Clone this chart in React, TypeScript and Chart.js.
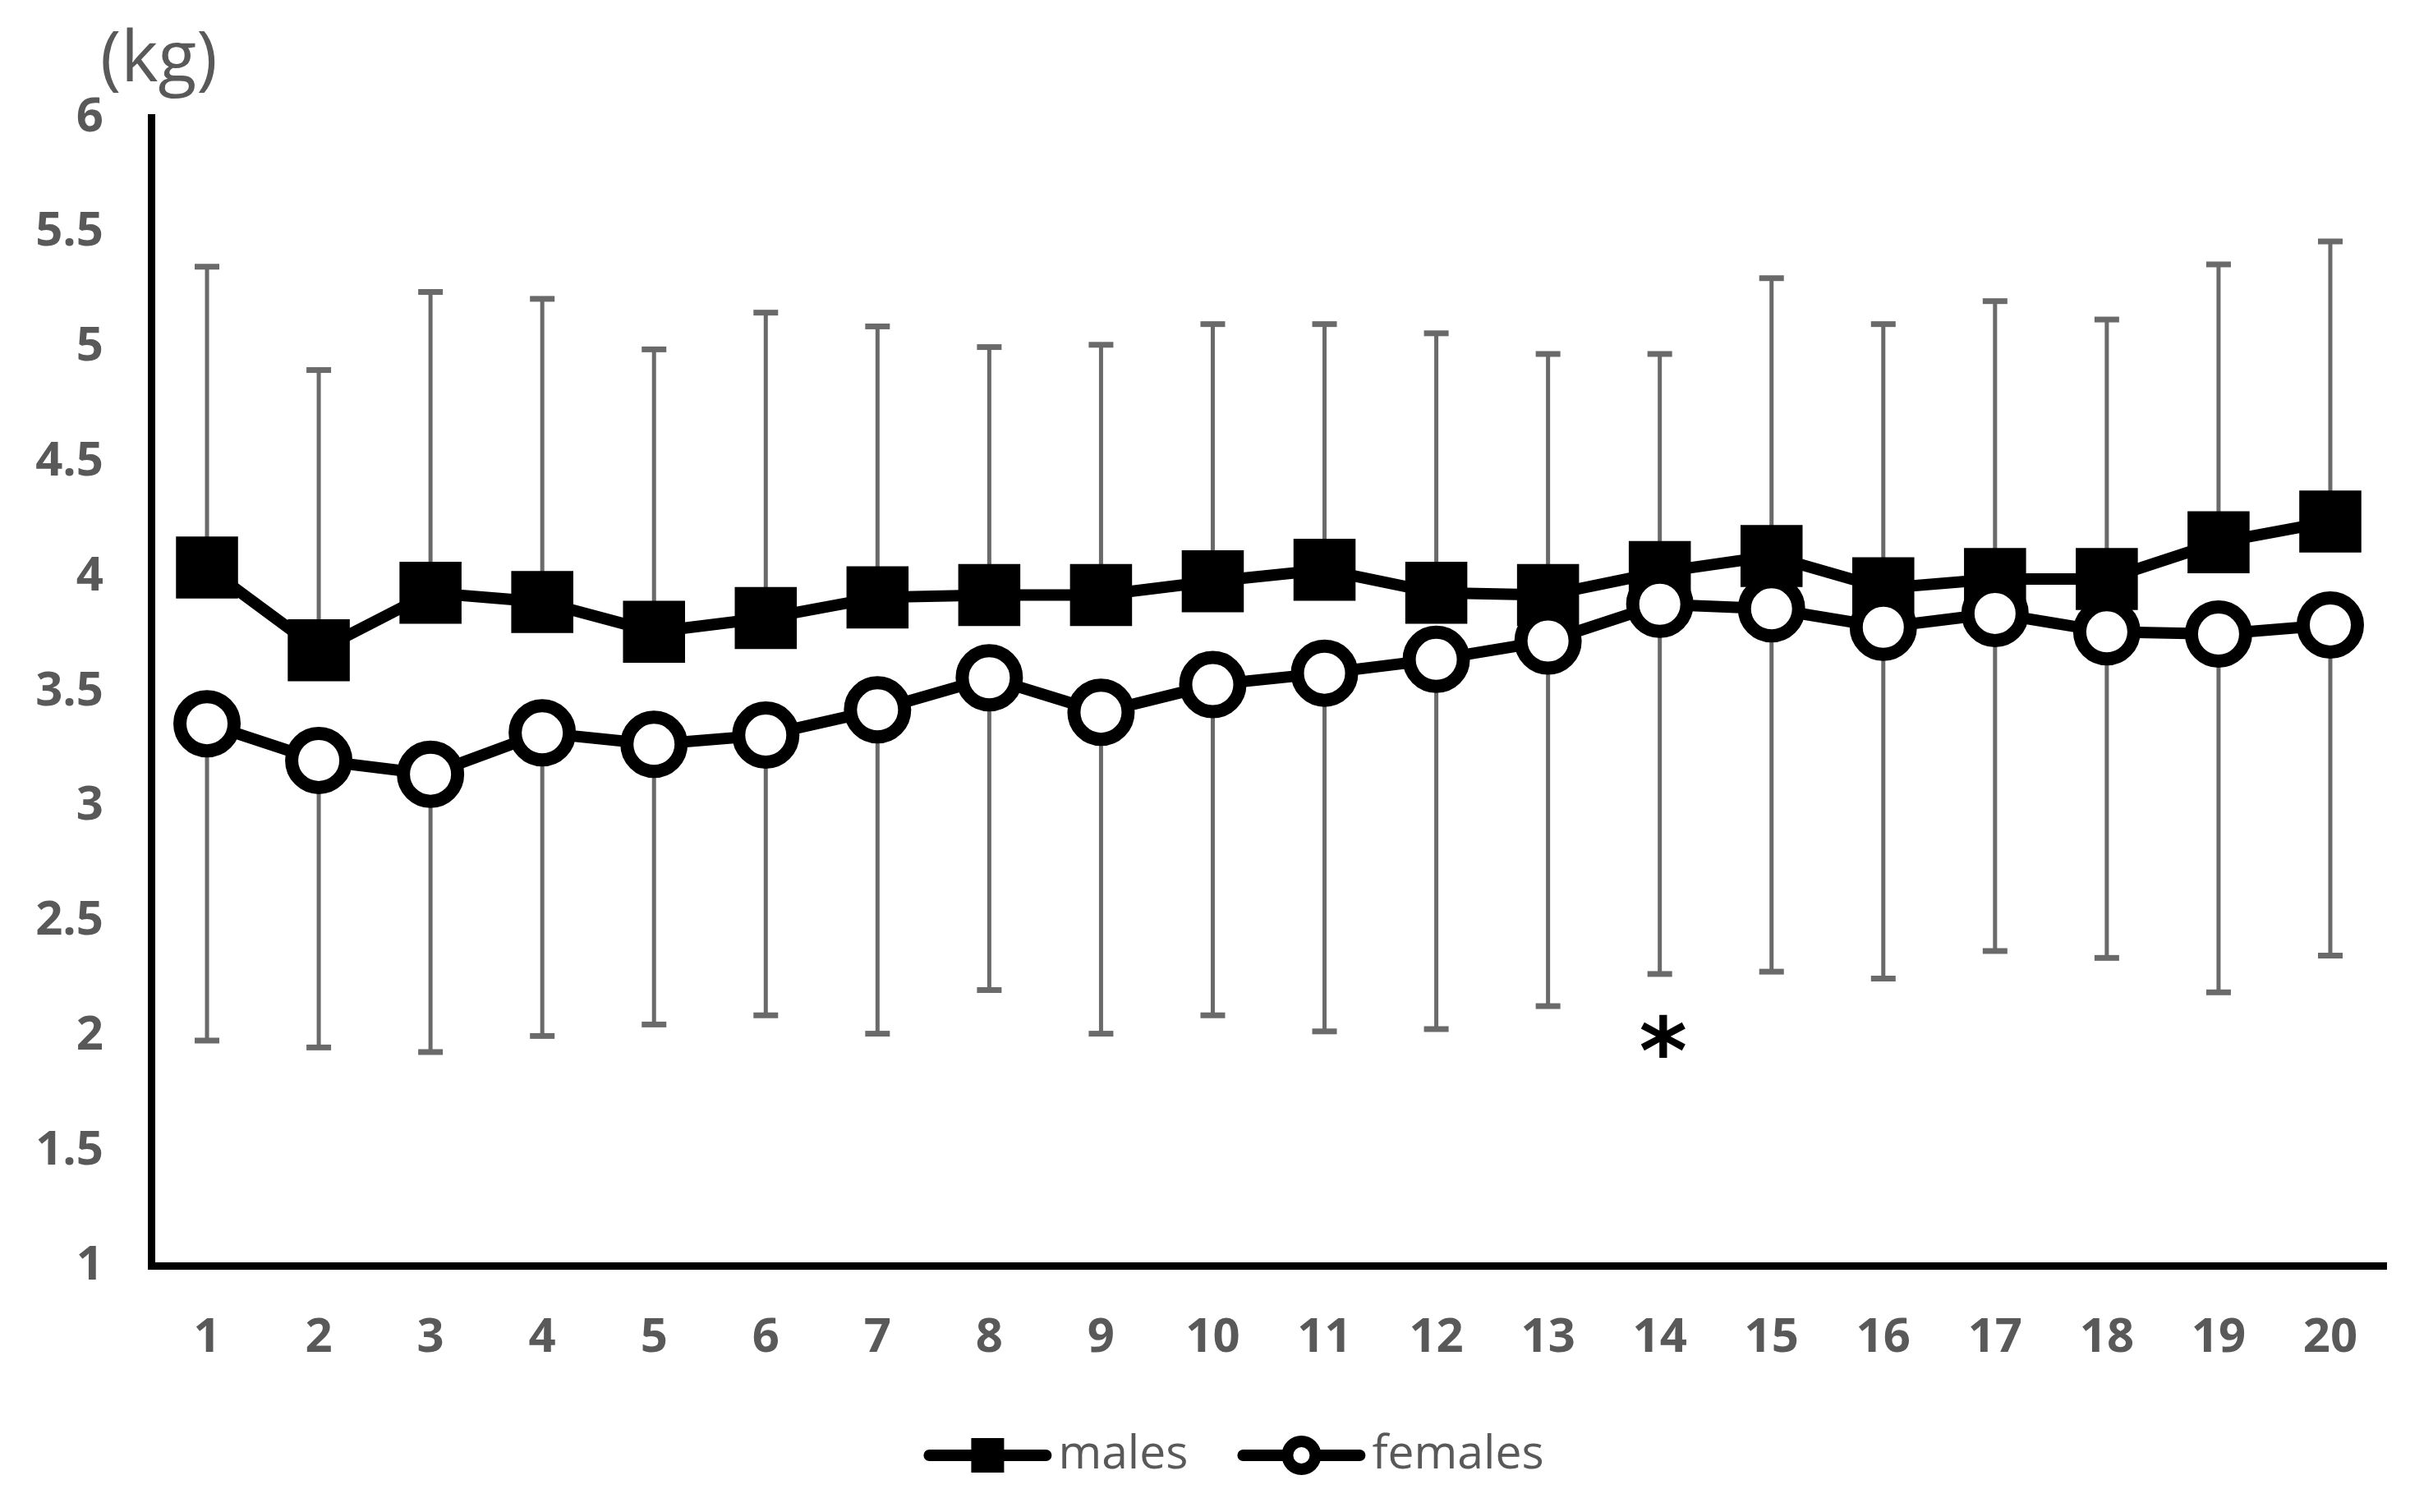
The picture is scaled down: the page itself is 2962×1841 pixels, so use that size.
import { useEffect, useRef } from 'react';
import { Chart, registerables } from 'chart.js';

Chart.register(...registerables);

const categories = ['1', '2', '3', '4', '5', '6', '7', '8', '9', '10', '11', '12', '13', '14', '15', '16', '17', '18', '19', '20'];
const males = [4.04, 3.68, 3.93, 3.89, 3.76, 3.82, 3.91, 3.92, 3.92, 3.98, 4.03, 3.93, 3.92, 4.02, 4.09, 3.95, 3.99, 3.99, 4.15, 4.24];
const malesUpper = [5.35, 4.90, 5.24, 5.21, 4.99, 5.15, 5.09, 5.00, 5.01, 5.10, 5.10, 5.06, 4.97, 4.97, 5.30, 5.10, 5.20, 5.12, 5.36, 5.46];
const females = [3.36, 3.20, 3.14, 3.32, 3.27, 3.31, 3.42, 3.56, 3.41, 3.53, 3.58, 3.64, 3.72, 3.88, 3.86, 3.78, 3.84, 3.76, 3.75, 3.79];
const femalesLower = [1.98, 1.95, 1.93, 2.00, 2.05, 2.09, 2.01, 2.20, 2.01, 2.09, 2.02, 2.03, 2.13, 2.27, 2.28, 2.25, 2.37, 2.34, 2.19, 2.35];
const yMin = 1;
const yMax = 6;
const yStep = 0.5;
const seriesLabels = ['males', 'females'];
const yUnit = '(kg)';
const significantIndex = 13;
const significantValue = 2.0;
const significantMark = '*';

const GRAY = '#595959';

const errorBarPlugin = {
  id: 'errorBars',
  beforeDatasetsDraw(chart: any) {
    const { ctx, scales } = chart;
    const x = scales.x;
    const y = scales.y;
    ctx.save();
    ctx.strokeStyle = '#6a6a6a';
    const draw = (i: number, from: number, to: number) => {
      const px = x.getPixelForValue(i);
      const y0 = y.getPixelForValue(from);
      const y1 = y.getPixelForValue(to);
      ctx.lineWidth = 5;
      ctx.beginPath();
      ctx.moveTo(px, y0);
      ctx.lineTo(px, y1);
      ctx.stroke();
      ctx.lineWidth = 7;
      ctx.beginPath();
      ctx.moveTo(px - 15, y1);
      ctx.lineTo(px + 15, y1);
      ctx.stroke();
    };
    for (let i = 0; i < categories.length; i++) {
      draw(i, males[i], malesUpper[i]);
      draw(i, females[i], femalesLower[i]);
    }
    ctx.restore();
  },
};

const annotationPlugin = {
  id: 'annotations',
  afterDraw(chart: any) {
    const { ctx, scales } = chart;
    ctx.save();
    // unit label
    ctx.fillStyle = GRAY;
    ctx.font = '86px "Open Sans"';
    ctx.textAlign = 'left';
    ctx.textBaseline = 'middle';
    ctx.fillText(yUnit, 122, 74);

    // significance mark
    ctx.fillStyle = '#000';
    ctx.font = 'bold 112px "DejaVu Sans"';
    ctx.textAlign = 'center';
    ctx.textBaseline = 'alphabetic';
    const m = ctx.measureText(significantMark);
    const sx = scales.x.getPixelForValue(significantIndex);
    const sy = scales.y.getPixelForValue(significantValue);
    const off = (m.actualBoundingBoxAscent - m.actualBoundingBoxDescent) / 2;
    ctx.fillText(significantMark, sx + 4, sy + off);

    // legend
    const cy = 1772;
    ctx.font = '57px "Open Sans"';
    const w1 = ctx.measureText(seriesLabels[0]).width;
    const w2 = ctx.measureText(seriesLabels[1]).width;
    const lineLen = 156;
    const gapText = 8;
    const gapItems = 60;
    const total = lineLen + gapText + w1 + gapItems + lineLen + gapText + w2;
    let lx = 1502 - total / 2;
    ctx.lineCap = 'round';
    ctx.strokeStyle = '#000';
    ctx.lineWidth = 14;
    ctx.beginPath();
    ctx.moveTo(lx + 7, cy);
    ctx.lineTo(lx + lineLen - 7, cy);
    ctx.stroke();
    ctx.fillStyle = '#000';
    ctx.fillRect(lx + lineLen / 2 - 20, cy - 21, 40, 42);
    ctx.fillStyle = GRAY;
    ctx.textAlign = 'left';
    ctx.textBaseline = 'middle';
    ctx.fillText(seriesLabels[0], lx + lineLen + gapText, cy);
    lx += lineLen + gapText + w1 + gapItems;
    ctx.beginPath();
    ctx.moveTo(lx + 7, cy);
    ctx.lineTo(lx + lineLen - 7, cy);
    ctx.stroke();
    ctx.beginPath();
    ctx.arc(lx + lineLen / 2, cy, 17, 0, Math.PI * 2);
    ctx.fillStyle = '#fff';
    ctx.fill();
    ctx.lineWidth = 14;
    ctx.stroke();
    ctx.fillStyle = GRAY;
    ctx.fillText(seriesLabels[1], lx + lineLen + gapText, cy);
    ctx.restore();
  },
};

export default function App() {
  const canvasRef = useRef<HTMLCanvasElement | null>(null);

  useEffect(() => {
    document.body.style.margin = '0';
    const canvas = canvasRef.current;
    if (!canvas) return;
    const chart = new Chart(canvas, {
      type: 'line',
      data: {
        labels: categories,
        datasets: [
          {
            label: seriesLabels[0],
            data: males,
            borderColor: '#000',
            borderWidth: 14,
            backgroundColor: '#000',
            pointStyle: 'rect',
            pointRadius: 52,
            pointBorderWidth: 2,
            pointBorderColor: '#000',
            pointBackgroundColor: '#000',
            tension: 0,
            order: 1,
          },
          {
            label: seriesLabels[1],
            data: females,
            borderColor: '#000',
            borderWidth: 14,
            backgroundColor: '#fff',
            pointStyle: 'circle',
            pointRadius: 33,
            pointBorderWidth: 16,
            pointBorderColor: '#000',
            pointBackgroundColor: '#fff',
            tension: 0,
            order: 0,
          },
        ],
      },
      options: {
        animation: false,
        responsive: false,
        devicePixelRatio: 1,
        layout: { padding: { left: 0, right: 57, top: 143, bottom: 140 } },
        plugins: {
          legend: { display: false },
          tooltip: { enabled: false },
          title: { display: false },
        },
        scales: {
          x: {
            type: 'category',
            offset: true,
            grid: { display: false, drawTicks: false },
            border: { display: true, color: '#000', width: 9 },
            ticks: {
              color: GRAY,
              font: { family: '"Open Sans"', size: 58, weight: 'bold' },
              padding: 54,
              maxRotation: 0,
              autoSkip: false,
            },
            afterFit: (s: any) => {
              s.height = 160;
            },
          },
          y: {
            type: 'linear',
            min: yMin,
            max: yMax,
            grid: { display: false, drawTicks: false },
            border: { display: true, color: '#000', width: 9 },
            ticks: {
              stepSize: yStep,
              color: GRAY,
              font: { family: '"Open Sans"', size: 58, weight: 'bold' },
              padding: 58,
              callback: (v: any) => String(v),
            },
            afterFit: (s: any) => {
              s.width = 184;
            },
          },
        },
      },
      plugins: [errorBarPlugin, annotationPlugin],
    });
    return () => chart.destroy();
  }, []);

  return (
    <div style={{ width: 2962, height: 1841, background: '#fff' }}>
      <canvas ref={canvasRef} width={2962} height={1841} style={{ display: 'block' }} />
    </div>
  );
}
